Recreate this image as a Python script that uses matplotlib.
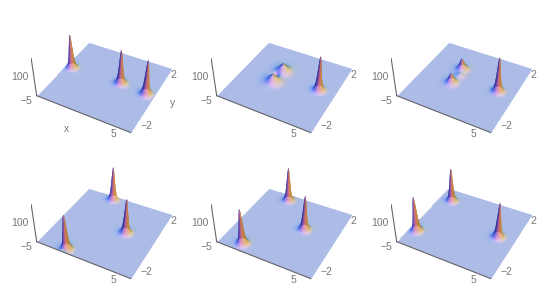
import numpy as np
from matplotlib import pyplot as plt

# lumps per panel: x, y, height, width
panel_1 = [(-4.1, 0.1, 140, 0.5), (2.6, 0.18, 140, 0.5), (6.0, 0.05, 140, 0.5)]
panel_2 = [(-0.45, -0.35, 34, 1.05), (-0.3, 0.6, 34, 1.05), (-0.7, 0.15, -12, 0.6), (5.0, 0.14, 140, 0.5)]
panel_3 = [(-0.3, 0.2, 8, 0.9), (-0.54, -0.45, 42, 0.7), (-0.6, 0.72, 48, 0.7), (5.0, 0.04, 140, 0.5)]
panel_4 = [(-1.3, -2.28, 140, 0.5), (-0.9, 2.18, 140, 0.5), (3.4, 0.06, 140, 0.5)]
panel_5 = [(-2.2, -2.03, 140, 0.5), (-1.35, 2.0, 140, 0.5), (3.0, 0.25, 140, 0.5)]
panel_6 = [(-4.0, -1.4, 140, 0.5), (-3.2, 1.52, 140, 0.5), (5.0, 0.07, 140, 0.5)]
panels = [panel_1, panel_2, panel_3, panel_4, panel_5, panel_6]

x_range = (-5, 7)
y_range = (-2.5, 2.5)
z_range = (0, 150)
box = (1, 1, 0.45)
elev, azim = 38.5, -62

# lights in view coordinates (right, up, towards viewer), with gains
lights = np.array([[0.5, -0.1, 0.85], [0.4, 0.4, 0.82], [-0.45, 0.45, 0.76]])
lights = lights / np.linalg.norm(lights, axis=1, keepdims=True)
gains = [1.15, 0.71, 0.91]
ambient = 0.15


def shade(X, Y, Z):
    sx = box[0] / (x_range[1] - x_range[0])
    sy = box[1] / (y_range[1] - y_range[0])
    sz = box[2] / (z_range[1] - z_range[0])
    zy, zx = np.gradient(Z, Y[:, 0], X[0, :])
    n = np.dstack([-zx * sz / sx, -zy * sz / sy, np.ones_like(Z)])
    n = n / np.linalg.norm(n, axis=2, keepdims=True)
    el, az = np.radians(elev), np.radians(azim)
    right = np.array([-np.sin(az), np.cos(az), 0])
    up = np.array([-np.sin(el) * np.cos(az), -np.sin(el) * np.sin(az), np.cos(el)])
    front = np.array([np.cos(el) * np.cos(az), np.cos(el) * np.sin(az), np.sin(el)])
    nv = np.dstack([n @ right, n @ up, n @ front])
    rgb = np.zeros(Z.shape + (4,))
    for i in range(3):
        rgb[..., i] = ambient + gains[i] * np.clip(nv @ lights[i], 0, None)
    rgb[..., 3] = 1
    return np.clip(rgb, 0, 1)


def height(X, Y, group):
    Z = np.zeros_like(X)
    for px, py, h, w in group:
        # x is 12 units and y 5 units long on a square plate
        r2 = ((X - px) / w) ** 2 + ((Y - py) / (w * 0.42)) ** 2
        Z = Z + h / (1 + r2) ** 3
    return Z


fig = plt.figure(figsize=(5.53, 2.95), dpi=100)
plt.rcParams["font.family"] = "Liberation Sans"
grey = "#777777"
size = 149
for i, lumps in enumerate(panels):
    col, row = i % 3, i // 3
    cx = 105 + 180 * col
    cy = 66 + 146 * row
    ax = fig.add_axes([(cx - size / 2) / 553, 1 - (cy + size / 2) / 295, size / 553, size / 295],
                      projection="3d", computed_zorder=False)
    ax.set_proj_type("persp", focal_length=0.5)
    ax.view_init(elev=elev, azim=azim)
    ax.set_box_aspect(box)
    ax.set_xlim(*x_range, view_margin=0)
    ax.set_ylim(*y_range, view_margin=0)
    ax.set_zlim(*z_range, view_margin=0)
    ax.set_xticks([])
    ax.set_yticks([])
    ax.set_zticks([])
    ax.set_axis_off()
    ax.patch.set_alpha(0)

    # flat plate first
    X, Y = np.meshgrid(np.array(x_range, float), np.array(y_range, float))
    Z = np.zeros_like(X)
    ax.plot_surface(X, Y, Z, facecolors=shade(X, Y, Z), shade=False, rstride=1, cstride=1,
                    linewidth=0, zorder=1)

    # the low lumps overlap, so they share one surface; spikes get one each
    low = [p for p in lumps if abs(p[2]) < 100]
    groups = [[p] for p in lumps if abs(p[2]) >= 100]
    if low:
        groups.append(low)
    # back to front so the nearer ones cover the farther ones
    groups.sort(key=lambda g: g[0][0] * 0.35 - g[0][1])
    for k, group in enumerate(groups):
        px = [p[0] for p in group]
        py = [p[1] for p in group]
        w = max(p[3] for p in group)
        xs = np.arange(max(min(px) - 4 * w, x_range[0]), min(max(px) + 4 * w, x_range[1]), 0.04)
        ys = np.arange(max(min(py) - 1.7 * w, y_range[0]), min(max(py) + 1.7 * w, y_range[1]), 0.02)
        X, Y = np.meshgrid(xs, ys)
        Z = height(X, Y, group)
        ax.plot_surface(X, Y, Z, facecolors=shade(X, Y, Z), shade=False, rstride=1, cstride=1,
                        linewidth=0.15, edgecolor=None, antialiased=True, zorder=2 + k)

    ax.plot(x_range, [y_range[0]] * 2, [0, 0], color="#666666", lw=0.8, zorder=10)
    ax.plot([x_range[0]] * 2, [y_range[0]] * 2, z_range, color="#666666", lw=0.8, zorder=10)

    tick = dict(color=grey, fontsize=7.5, ha="center", va="center", zorder=11)
    ax.text(-5.5, -3.0, 0, "\u22125", **tick)
    ax.text(5.5, -2.9, 0, "5", **tick)
    ax.text(8.1, -1.8, 0, "\u22122", **tick)
    ax.text(7.6, 2.0, 0, "2", **tick)
    ax.text(-5.5, -3.2, 108, "100", **tick)
    if i == 0:
        ax.text(0.8, -3.65, 0, "x", **tick)
        ax.text(9.3, 0.1, 0, "y", **tick)

fig.savefig("out.png", dpi=100)
